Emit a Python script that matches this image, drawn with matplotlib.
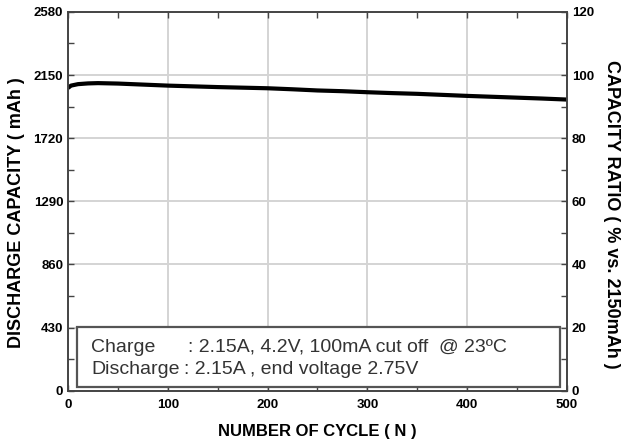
import matplotlib
matplotlib.use("Agg")
import matplotlib.pyplot as plt
from matplotlib.patches import Rectangle

# cycle life data
cycles = [0, 3, 10, 20, 30, 50, 75, 100, 125, 150, 175, 200, 225, 250,
          275, 300, 325, 350, 375, 400, 425, 450, 475, 500]
capacity = [2062, 2078, 2088, 2093, 2095, 2092, 2085, 2078, 2073, 2068,
            2064, 2060, 2053, 2045, 2040, 2033, 2027, 2022, 2015, 2008,
            2002, 1996, 1990, 1983]

left_ticks = [0, 430, 860, 1290, 1720, 2150, 2580]
right_ticks = [0, 20, 40, 60, 80, 100, 120]
x_ticks = [0, 100, 200, 300, 400, 500]

charge_label = "Charge"
charge_text = ": 2.15A, 4.2V, 100mA cut off  @ 23\u00baC"
discharge_label = "Discharge"
discharge_text = ": 2.15A , end voltage 2.75V"

plt.rcParams['font.family'] = ['Liberation Sans', 'DejaVu Sans']

fig = plt.figure(figsize=(6.21, 4.41), dpi=100)
ax = fig.add_axes([0.1095, 0.114, 0.8035, 0.859])

ax.plot(cycles, capacity, color="black", lw=3.0, solid_capstyle="butt")

ax.set_xlim(0, 500)
ax.set_ylim(0, 2580)
ax.set_xticks(x_ticks)
ax.set_xticks(range(50, 500, 100), minor=True)
ax.set_yticks(left_ticks)
ax.set_yticks(range(215, 2580, 430), minor=True)
ax.grid(True, which="major", color="#d4d4d4", lw=1.4)
ax.set_axisbelow(True)

for lab in ax.get_xticklabels() + ax.get_yticklabels():
    lab.set_fontweight("bold")
ax.tick_params(which="both", direction="in", top=True, labelsize=9.5,
               color="#444444", length=4, width=1)
ax.tick_params(axis="x", pad=6)
for s in ax.spines.values():
    s.set_color("#444444")
    s.set_linewidth(1.2)

ax.set_xlabel("NUMBER OF CYCLE ( N )", fontsize=12, fontweight="bold", labelpad=9)
ax.set_ylabel("DISCHARGE CAPACITY ( mAh )", fontsize=13, fontweight="bold", labelpad=6)
ax.yaxis.label.set_y(0.47)

ax2 = ax.twinx()
ax2.set_ylim(0, 120)
ax2.set_yticks(right_ticks)
ax2.set_yticks(range(10, 120, 20), minor=True)
ax2.tick_params(which="both", direction="in", labelsize=9.5,
                color="#444444", length=4, width=1)
for lab in ax2.get_yticklabels():
    lab.set_fontweight("bold")
for s in ax2.spines.values():
    s.set_color("#444444")
    s.set_linewidth(1.2)
ax2.set_ylabel("CAPACITY RATIO ( % vs. 2150mAh )", fontsize=13,
               fontweight="bold", rotation=270, labelpad=19)
ax2.yaxis.label.set_y(0.465)

# condition box
box = Rectangle((9, 25), 484, 409, transform=ax.transData, fill=True,
                facecolor="white", edgecolor="#555555", lw=1.6, zorder=3)
ax.add_patch(box)
ax.text(23, 296, charge_label, fontsize=14, color="#333333", va="center", zorder=4)
ax.text(120, 296, charge_text, fontsize=14, color="#333333", va="center", zorder=4)
ax.text(23, 147, discharge_label, fontsize=14, color="#333333", va="center", zorder=4)
ax.text(116, 147, discharge_text, fontsize=14, color="#333333", va="center", zorder=4)

fig.savefig("out.png", dpi=100)
